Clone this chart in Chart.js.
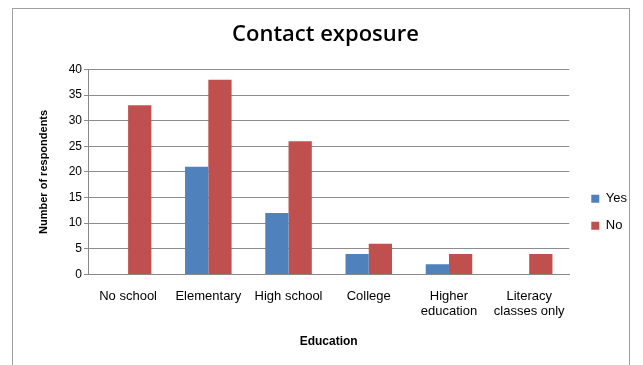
<!DOCTYPE html>
<html>
<head>
<meta charset="utf-8">
<script src="https://cdn.jsdelivr.net/npm/chart.js@4"></script>
<style>
  html, body { margin: 0; padding: 0; background: #fff; }
  #wrap { position: relative; width: 643px; height: 365px; overflow: hidden; }
  #frame { position: absolute; left: 12px; top: 8px; width: 618px; height: 400px; border: 1px solid #a0a0a0; box-sizing: border-box; }
  canvas { position: absolute; left: 0; top: 0; }
</style>
</head>
<body>
<div id="wrap">
  <div id="frame"></div>
  <canvas id="contactChart" width="643" height="365"></canvas>
</div>
<script>
const categories = ['No school', 'Elementary', 'High school', 'College', ['Higher', 'education'], ['Literacy', 'classes only']];
const yesValues = [0, 21, 12, 4, 2, 0];
const noValues = [33, 38, 26, 6, 4, 4];
const yTicks = [0, 5, 10, 15, 20, 25, 30, 35, 40];

const ctx = document.getElementById('contactChart').getContext('2d');
const contactChart = new Chart(ctx, {
    type: 'bar',
    data: {
        labels: categories,
        datasets: [
            { label: 'Yes', data: yesValues, backgroundColor: '#4F81BD' },
            { label: 'No', data: noValues, backgroundColor: '#C0504D' }
        ]
    },
    options: {
        responsive: false,
        animation: false,
        layout: { padding: { left: 14, right: 6, top: 6, bottom: 12 } },
        datasets: { bar: { categoryPercentage: 0.58, barPercentage: 1.0 } },
        scales: {
            x: {
                grid: { display: false },
                border: { color: '#888' },
                ticks: { color: '#000', font: { family: 'Liberation Sans', size: 13 }, maxRotation: 0, autoSkip: false, padding: 6, lineHeight: 1.5 },
                title: { display: true, text: 'Education', color: '#000', font: { family: 'Liberation Sans', size: 12, weight: 'bold' }, padding: { top: 9 } }
            },
            y: {
                min: 0,
                max: 40,
                afterBuildTicks: (axis) => { axis.ticks = yTicks.map(v => ({ value: v })); },
                afterFit: (axis) => { axis.width = 74; },
                grid: { color: '#8c8c8c', tickLength: 4 },
                border: { color: '#888' },
                ticks: { color: '#000', font: { family: 'Liberation Sans', size: 12 }, padding: 2 },
                title: { display: true, text: 'Number of respondents', color: '#000', font: { family: 'Liberation Sans', size: 11, weight: 'bold' }, padding: { top: 23, bottom: 0 } }
            },
            // empty spacer between plot and legend
            gap: {
                position: 'right',
                grid: { display: false },
                border: { display: false },
                ticks: { display: false },
                afterFit: (axis) => { axis.width = 8; }
            }
        },
        plugins: {
            title: {
                display: true,
                text: 'Contact exposure',
                color: '#000',
                font: { family: 'Open Sans', size: 22, weight: '600' },
                padding: { top: 16, bottom: 21 }
            },
            legend: {
                display: true,
                position: 'right',
                title: { display: true, text: ' ', padding: { top: 0, bottom: 50 }, font: { size: 13 } },
                labels: {
                    color: '#000',
                    boxWidth: 8,
                    boxHeight: 8,
                    padding: 14,
                    font: { family: 'Liberation Sans', size: 13 }
                }
            },
            tooltip: { enabled: false }
        }
    }
});
</script>
</body>
</html>
